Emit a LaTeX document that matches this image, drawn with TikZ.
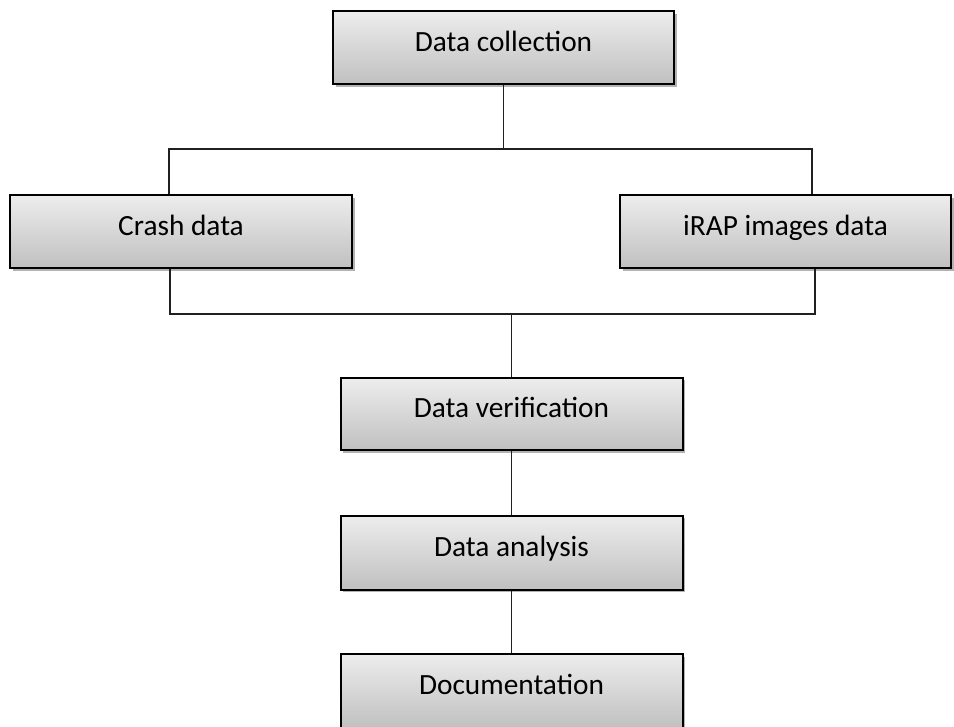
\documentclass[tikz,border=0pt]{standalone}
\usepackage{fontspec}
\setmainfont{Carlito}
\usetikzlibrary{shadows}
\definecolor{boxtop}{HTML}{EDEDED}
\definecolor{boxbot}{HTML}{C0C0C0}
\definecolor{linecol}{HTML}{202020}
\begin{document}
\begin{tikzpicture}[x=0.75pt,y=-0.75pt,
  box/.style={draw=black, line width=1.5pt, rectangle, inner sep=0pt,
    top color=boxtop, bottom color=boxbot, minimum height=54.5pt,
    font=\fontsize{22}{26}\selectfont, text=black,
    text height=1.6ex, text depth=0.45ex,
    drop shadow={shadow xshift=2pt, shadow yshift=-2pt, opacity=0.3, fill=black}},
  conn/.style={draw=linecol, line width=1pt}]
\useasboundingbox (0,0) rectangle (954,726);
\node[box, minimum width=255.75pt] (dc) at (503.5,47.5) {Data collection};
\node[box, minimum width=256.5pt] (crash) at (181,231.5) {Crash data};
\node[box, minimum width=248.25pt] (irap) at (785.5,231.5) {iRAP images data};
\node[box, minimum width=256.5pt] (ver) at (511.5,414) {Data verification};
\node[box, minimum width=256.5pt, minimum height=55.5pt] (ana) at (511.5,552.5) {Data analysis};
\node[box, minimum width=256.5pt, minimum height=55.5pt] (doc) at (511.5,691) {Documentation};
\coordinate (hl) at (169,149);
\coordinate (hr) at (812,149);
\coordinate (ll) at (170,314);
\coordinate (lr) at (815,314);
\draw[conn] (dc.south) -- (dc.south |- hl);
\draw[conn] (crash.north -| hl) -- (hl) -- (hr) -- (irap.north -| hr);
\draw[conn] (crash.south -| ll) -- (ll) -- (lr) -- (irap.south -| lr);
\draw[conn] (ver.north |- ll) -- (ver.north);
\draw[conn] (ver.south) -- (ana.north);
\draw[conn] (ana.south) -- (doc.north);
\end{tikzpicture}
\end{document}
